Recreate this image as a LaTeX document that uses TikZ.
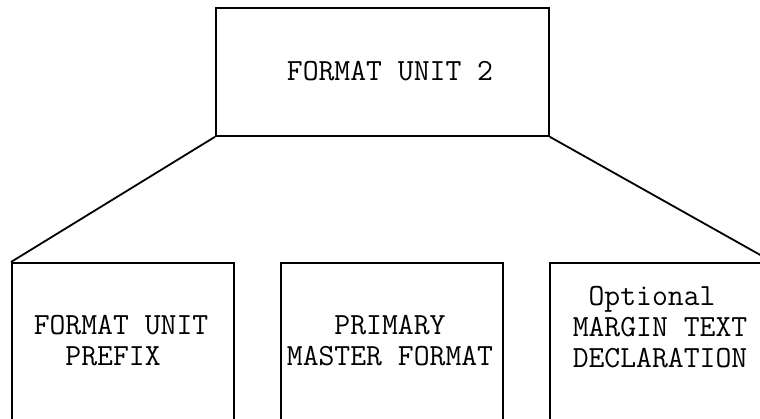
\documentclass[tikz,border=0pt]{standalone}
\usepackage{fontspec}
\usetikzlibrary{positioning}

\begin{document}
\begin{tikzpicture}[
        x=0.5pt, y=-0.5pt,
        box/.style={
            draw,
            line width=0.9pt,
            inner sep=0pt,
            minimum width=111pt,
            minimum height=90pt
        },
        txt/.style={
            font=\ttfamily\fontsize{15.4}{15.5}\selectfont,
            inner sep=0pt
        },
        link/.style={line width=0.9pt},
        node distance=22.6pt
    ]
    \useasboundingbox (0,0) rectangle (760,418);
    \clip (0,0) rectangle (760,418);

    \node[box, anchor=north west, minimum width=166.5pt, minimum height=64pt] (unit) at (215,7) {};
    \node[box, anchor=north west] (prefix) at (11,262) {};
    \node[box, right=of prefix] (master) {};
    \node[box, right=of master] (margin) {};

    \node[txt] (unittext) at (390,71) {FORMAT UNIT 2};
    \node[txt, align=left] (prefixtext) at (121,341) {FORMAT UNIT\\\hphantom{OO}PREFIX};
    \node[txt, align=center] (mastertext) at (390,341) {PRIMARY\\MASTER FORMAT};
    \node[txt, align=left] (margintext) at (660,327) {\hphantom{O}Optional\\MARGIN TEXT\\DECLARATION};

    \draw[link] (unit.south west) -- (prefix.north west);
    \draw[link] (unit.south east) -- (margin.north east);
\end{tikzpicture}
\end{document}
